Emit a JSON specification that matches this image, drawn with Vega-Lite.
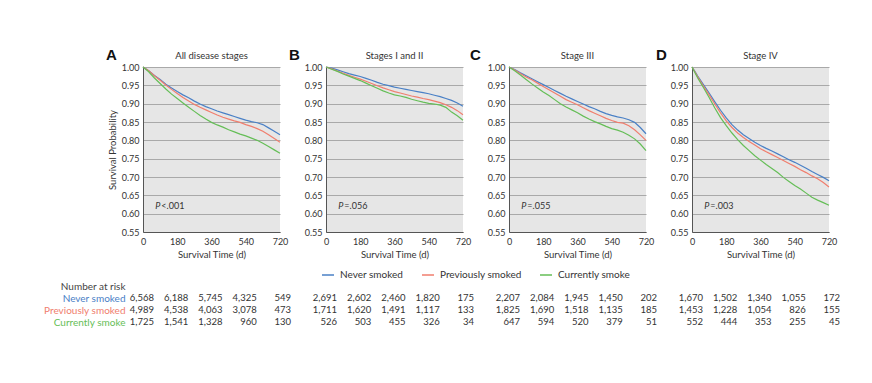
{
"$schema":"https://vega.github.io/schema/vega-lite/v6.json",
"padding":{"left":43,"top":48,"right":10,"bottom":10},
"spacing":0,
"datasets":{
"panels":[{"panel":"A","stage":"All disease stages","p":"<.001"},{"panel":"B","stage":"Stages I and II","p":"=.056"},{"panel":"C","stage":"Stage III","p":"=.055"},{"panel":"D","stage":"Stage IV","p":"=.003"}],
"curves":[
{"p":"A","g":"Never smoked","t":0,"s":1},{"p":"A","g":"Never smoked","t":30,"s":0.99},{"p":"A","g":"Never smoked","t":60,"s":0.977},{"p":"A","g":"Never smoked","t":90,"s":0.966},{"p":"A","g":"Never smoked","t":120,"s":0.953},{"p":"A","g":"Never smoked","t":150,"s":0.943},{"p":"A","g":"Never smoked","t":180,"s":0.933},{"p":"A","g":"Never smoked","t":210,"s":0.924},{"p":"A","g":"Never smoked","t":240,"s":0.916},{"p":"A","g":"Never smoked","t":270,"s":0.907},{"p":"A","g":"Never smoked","t":300,"s":0.899},{"p":"A","g":"Never smoked","t":330,"s":0.892},{"p":"A","g":"Never smoked","t":360,"s":0.886},{"p":"A","g":"Never smoked","t":390,"s":0.88},{"p":"A","g":"Never smoked","t":420,"s":0.875},{"p":"A","g":"Never smoked","t":450,"s":0.87},{"p":"A","g":"Never smoked","t":480,"s":0.865},{"p":"A","g":"Never smoked","t":510,"s":0.86},{"p":"A","g":"Never smoked","t":540,"s":0.855},{"p":"A","g":"Never smoked","t":570,"s":0.851},{"p":"A","g":"Never smoked","t":600,"s":0.848},{"p":"A","g":"Never smoked","t":630,"s":0.843},{"p":"A","g":"Never smoked","t":660,"s":0.834},{"p":"A","g":"Never smoked","t":690,"s":0.825},{"p":"A","g":"Never smoked","t":720,"s":0.815},
{"p":"A","g":"Previously smoked","t":0,"s":1},{"p":"A","g":"Previously smoked","t":30,"s":0.99},{"p":"A","g":"Previously smoked","t":60,"s":0.976},{"p":"A","g":"Previously smoked","t":90,"s":0.964},{"p":"A","g":"Previously smoked","t":120,"s":0.951},{"p":"A","g":"Previously smoked","t":150,"s":0.939},{"p":"A","g":"Previously smoked","t":180,"s":0.928},{"p":"A","g":"Previously smoked","t":210,"s":0.917},{"p":"A","g":"Previously smoked","t":240,"s":0.907},{"p":"A","g":"Previously smoked","t":270,"s":0.898},{"p":"A","g":"Previously smoked","t":300,"s":0.89},{"p":"A","g":"Previously smoked","t":330,"s":0.883},{"p":"A","g":"Previously smoked","t":360,"s":0.876},{"p":"A","g":"Previously smoked","t":390,"s":0.869},{"p":"A","g":"Previously smoked","t":420,"s":0.863},{"p":"A","g":"Previously smoked","t":450,"s":0.858},{"p":"A","g":"Previously smoked","t":480,"s":0.853},{"p":"A","g":"Previously smoked","t":510,"s":0.849},{"p":"A","g":"Previously smoked","t":540,"s":0.843},{"p":"A","g":"Previously smoked","t":570,"s":0.838},{"p":"A","g":"Previously smoked","t":600,"s":0.832},{"p":"A","g":"Previously smoked","t":630,"s":0.825},{"p":"A","g":"Previously smoked","t":660,"s":0.815},{"p":"A","g":"Previously smoked","t":690,"s":0.805},{"p":"A","g":"Previously smoked","t":720,"s":0.795},
{"p":"A","g":"Currently smoke","t":0,"s":1},{"p":"A","g":"Currently smoke","t":30,"s":0.987},{"p":"A","g":"Currently smoke","t":60,"s":0.97},{"p":"A","g":"Currently smoke","t":90,"s":0.955},{"p":"A","g":"Currently smoke","t":120,"s":0.94},{"p":"A","g":"Currently smoke","t":150,"s":0.926},{"p":"A","g":"Currently smoke","t":180,"s":0.914},{"p":"A","g":"Currently smoke","t":210,"s":0.902},{"p":"A","g":"Currently smoke","t":240,"s":0.89},{"p":"A","g":"Currently smoke","t":270,"s":0.879},{"p":"A","g":"Currently smoke","t":300,"s":0.868},{"p":"A","g":"Currently smoke","t":330,"s":0.858},{"p":"A","g":"Currently smoke","t":360,"s":0.849},{"p":"A","g":"Currently smoke","t":390,"s":0.842},{"p":"A","g":"Currently smoke","t":420,"s":0.836},{"p":"A","g":"Currently smoke","t":450,"s":0.829},{"p":"A","g":"Currently smoke","t":480,"s":0.823},{"p":"A","g":"Currently smoke","t":510,"s":0.817},{"p":"A","g":"Currently smoke","t":540,"s":0.812},{"p":"A","g":"Currently smoke","t":570,"s":0.806},{"p":"A","g":"Currently smoke","t":600,"s":0.8},{"p":"A","g":"Currently smoke","t":630,"s":0.792},{"p":"A","g":"Currently smoke","t":660,"s":0.783},{"p":"A","g":"Currently smoke","t":690,"s":0.774},{"p":"A","g":"Currently smoke","t":720,"s":0.765},
{"p":"B","g":"Never smoked","t":0,"s":1},{"p":"B","g":"Never smoked","t":30,"s":0.997},{"p":"B","g":"Never smoked","t":60,"s":0.992},{"p":"B","g":"Never smoked","t":90,"s":0.987},{"p":"B","g":"Never smoked","t":120,"s":0.982},{"p":"B","g":"Never smoked","t":150,"s":0.978},{"p":"B","g":"Never smoked","t":180,"s":0.974},{"p":"B","g":"Never smoked","t":210,"s":0.969},{"p":"B","g":"Never smoked","t":240,"s":0.964},{"p":"B","g":"Never smoked","t":270,"s":0.958},{"p":"B","g":"Never smoked","t":300,"s":0.953},{"p":"B","g":"Never smoked","t":330,"s":0.949},{"p":"B","g":"Never smoked","t":360,"s":0.945},{"p":"B","g":"Never smoked","t":390,"s":0.942},{"p":"B","g":"Never smoked","t":420,"s":0.939},{"p":"B","g":"Never smoked","t":450,"s":0.936},{"p":"B","g":"Never smoked","t":480,"s":0.933},{"p":"B","g":"Never smoked","t":510,"s":0.93},{"p":"B","g":"Never smoked","t":540,"s":0.927},{"p":"B","g":"Never smoked","t":570,"s":0.923},{"p":"B","g":"Never smoked","t":600,"s":0.919},{"p":"B","g":"Never smoked","t":630,"s":0.914},{"p":"B","g":"Never smoked","t":660,"s":0.909},{"p":"B","g":"Never smoked","t":690,"s":0.902},{"p":"B","g":"Never smoked","t":720,"s":0.893},
{"p":"B","g":"Previously smoked","t":0,"s":1},{"p":"B","g":"Previously smoked","t":30,"s":0.995},{"p":"B","g":"Previously smoked","t":60,"s":0.989},{"p":"B","g":"Previously smoked","t":90,"s":0.983},{"p":"B","g":"Previously smoked","t":120,"s":0.977},{"p":"B","g":"Previously smoked","t":150,"s":0.972},{"p":"B","g":"Previously smoked","t":180,"s":0.967},{"p":"B","g":"Previously smoked","t":210,"s":0.961},{"p":"B","g":"Previously smoked","t":240,"s":0.955},{"p":"B","g":"Previously smoked","t":270,"s":0.949},{"p":"B","g":"Previously smoked","t":300,"s":0.943},{"p":"B","g":"Previously smoked","t":330,"s":0.938},{"p":"B","g":"Previously smoked","t":360,"s":0.933},{"p":"B","g":"Previously smoked","t":390,"s":0.929},{"p":"B","g":"Previously smoked","t":420,"s":0.925},{"p":"B","g":"Previously smoked","t":450,"s":0.921},{"p":"B","g":"Previously smoked","t":480,"s":0.918},{"p":"B","g":"Previously smoked","t":510,"s":0.914},{"p":"B","g":"Previously smoked","t":540,"s":0.911},{"p":"B","g":"Previously smoked","t":570,"s":0.907},{"p":"B","g":"Previously smoked","t":600,"s":0.903},{"p":"B","g":"Previously smoked","t":630,"s":0.897},{"p":"B","g":"Previously smoked","t":660,"s":0.89},{"p":"B","g":"Previously smoked","t":690,"s":0.881},{"p":"B","g":"Previously smoked","t":720,"s":0.87},
{"p":"B","g":"Currently smoke","t":0,"s":1},{"p":"B","g":"Currently smoke","t":30,"s":0.994},{"p":"B","g":"Currently smoke","t":60,"s":0.988},{"p":"B","g":"Currently smoke","t":90,"s":0.981},{"p":"B","g":"Currently smoke","t":120,"s":0.975},{"p":"B","g":"Currently smoke","t":150,"s":0.969},{"p":"B","g":"Currently smoke","t":180,"s":0.963},{"p":"B","g":"Currently smoke","t":210,"s":0.956},{"p":"B","g":"Currently smoke","t":240,"s":0.949},{"p":"B","g":"Currently smoke","t":270,"s":0.942},{"p":"B","g":"Currently smoke","t":300,"s":0.935},{"p":"B","g":"Currently smoke","t":330,"s":0.929},{"p":"B","g":"Currently smoke","t":360,"s":0.924},{"p":"B","g":"Currently smoke","t":390,"s":0.921},{"p":"B","g":"Currently smoke","t":420,"s":0.917},{"p":"B","g":"Currently smoke","t":450,"s":0.912},{"p":"B","g":"Currently smoke","t":480,"s":0.908},{"p":"B","g":"Currently smoke","t":510,"s":0.904},{"p":"B","g":"Currently smoke","t":540,"s":0.901},{"p":"B","g":"Currently smoke","t":570,"s":0.899},{"p":"B","g":"Currently smoke","t":600,"s":0.896},{"p":"B","g":"Currently smoke","t":630,"s":0.89},{"p":"B","g":"Currently smoke","t":660,"s":0.877},{"p":"B","g":"Currently smoke","t":690,"s":0.867},{"p":"B","g":"Currently smoke","t":720,"s":0.855},
{"p":"C","g":"Never smoked","t":0,"s":1},{"p":"C","g":"Never smoked","t":30,"s":0.993},{"p":"C","g":"Never smoked","t":60,"s":0.984},{"p":"C","g":"Never smoked","t":90,"s":0.976},{"p":"C","g":"Never smoked","t":120,"s":0.968},{"p":"C","g":"Never smoked","t":150,"s":0.96},{"p":"C","g":"Never smoked","t":180,"s":0.952},{"p":"C","g":"Never smoked","t":210,"s":0.944},{"p":"C","g":"Never smoked","t":240,"s":0.936},{"p":"C","g":"Never smoked","t":270,"s":0.928},{"p":"C","g":"Never smoked","t":300,"s":0.92},{"p":"C","g":"Never smoked","t":330,"s":0.913},{"p":"C","g":"Never smoked","t":360,"s":0.906},{"p":"C","g":"Never smoked","t":390,"s":0.899},{"p":"C","g":"Never smoked","t":420,"s":0.892},{"p":"C","g":"Never smoked","t":450,"s":0.886},{"p":"C","g":"Never smoked","t":480,"s":0.879},{"p":"C","g":"Never smoked","t":510,"s":0.873},{"p":"C","g":"Never smoked","t":540,"s":0.868},{"p":"C","g":"Never smoked","t":570,"s":0.864},{"p":"C","g":"Never smoked","t":600,"s":0.861},{"p":"C","g":"Never smoked","t":630,"s":0.856},{"p":"C","g":"Never smoked","t":660,"s":0.849},{"p":"C","g":"Never smoked","t":690,"s":0.835},{"p":"C","g":"Never smoked","t":720,"s":0.818},
{"p":"C","g":"Previously smoked","t":0,"s":1},{"p":"C","g":"Previously smoked","t":30,"s":0.992},{"p":"C","g":"Previously smoked","t":60,"s":0.982},{"p":"C","g":"Previously smoked","t":90,"s":0.973},{"p":"C","g":"Previously smoked","t":120,"s":0.965},{"p":"C","g":"Previously smoked","t":150,"s":0.956},{"p":"C","g":"Previously smoked","t":180,"s":0.947},{"p":"C","g":"Previously smoked","t":210,"s":0.938},{"p":"C","g":"Previously smoked","t":240,"s":0.929},{"p":"C","g":"Previously smoked","t":270,"s":0.92},{"p":"C","g":"Previously smoked","t":300,"s":0.911},{"p":"C","g":"Previously smoked","t":330,"s":0.904},{"p":"C","g":"Previously smoked","t":360,"s":0.897},{"p":"C","g":"Previously smoked","t":390,"s":0.889},{"p":"C","g":"Previously smoked","t":420,"s":0.881},{"p":"C","g":"Previously smoked","t":450,"s":0.874},{"p":"C","g":"Previously smoked","t":480,"s":0.867},{"p":"C","g":"Previously smoked","t":510,"s":0.86},{"p":"C","g":"Previously smoked","t":540,"s":0.854},{"p":"C","g":"Previously smoked","t":570,"s":0.849},{"p":"C","g":"Previously smoked","t":600,"s":0.847},{"p":"C","g":"Previously smoked","t":630,"s":0.84},{"p":"C","g":"Previously smoked","t":660,"s":0.829},{"p":"C","g":"Previously smoked","t":690,"s":0.815},{"p":"C","g":"Previously smoked","t":720,"s":0.8},
{"p":"C","g":"Currently smoke","t":0,"s":1},{"p":"C","g":"Currently smoke","t":30,"s":0.99},{"p":"C","g":"Currently smoke","t":60,"s":0.978},{"p":"C","g":"Currently smoke","t":90,"s":0.966},{"p":"C","g":"Currently smoke","t":120,"s":0.954},{"p":"C","g":"Currently smoke","t":150,"s":0.943},{"p":"C","g":"Currently smoke","t":180,"s":0.932},{"p":"C","g":"Currently smoke","t":210,"s":0.922},{"p":"C","g":"Currently smoke","t":240,"s":0.911},{"p":"C","g":"Currently smoke","t":270,"s":0.9},{"p":"C","g":"Currently smoke","t":300,"s":0.891},{"p":"C","g":"Currently smoke","t":330,"s":0.883},{"p":"C","g":"Currently smoke","t":360,"s":0.875},{"p":"C","g":"Currently smoke","t":390,"s":0.866},{"p":"C","g":"Currently smoke","t":420,"s":0.858},{"p":"C","g":"Currently smoke","t":450,"s":0.851},{"p":"C","g":"Currently smoke","t":480,"s":0.845},{"p":"C","g":"Currently smoke","t":510,"s":0.838},{"p":"C","g":"Currently smoke","t":540,"s":0.832},{"p":"C","g":"Currently smoke","t":570,"s":0.828},{"p":"C","g":"Currently smoke","t":600,"s":0.822},{"p":"C","g":"Currently smoke","t":630,"s":0.814},{"p":"C","g":"Currently smoke","t":660,"s":0.804},{"p":"C","g":"Currently smoke","t":690,"s":0.79},{"p":"C","g":"Currently smoke","t":720,"s":0.772},
{"p":"D","g":"Never smoked","t":0,"s":1},{"p":"D","g":"Never smoked","t":15,"s":0.988},{"p":"D","g":"Never smoked","t":30,"s":0.975},{"p":"D","g":"Never smoked","t":60,"s":0.952},{"p":"D","g":"Never smoked","t":90,"s":0.929},{"p":"D","g":"Never smoked","t":120,"s":0.905},{"p":"D","g":"Never smoked","t":150,"s":0.882},{"p":"D","g":"Never smoked","t":180,"s":0.861},{"p":"D","g":"Never smoked","t":210,"s":0.843},{"p":"D","g":"Never smoked","t":240,"s":0.828},{"p":"D","g":"Never smoked","t":270,"s":0.815},{"p":"D","g":"Never smoked","t":300,"s":0.805},{"p":"D","g":"Never smoked","t":330,"s":0.795},{"p":"D","g":"Never smoked","t":360,"s":0.786},{"p":"D","g":"Never smoked","t":390,"s":0.778},{"p":"D","g":"Never smoked","t":420,"s":0.771},{"p":"D","g":"Never smoked","t":450,"s":0.763},{"p":"D","g":"Never smoked","t":480,"s":0.755},{"p":"D","g":"Never smoked","t":510,"s":0.747},{"p":"D","g":"Never smoked","t":540,"s":0.74},{"p":"D","g":"Never smoked","t":570,"s":0.732},{"p":"D","g":"Never smoked","t":600,"s":0.724},{"p":"D","g":"Never smoked","t":630,"s":0.715},{"p":"D","g":"Never smoked","t":660,"s":0.707},{"p":"D","g":"Never smoked","t":690,"s":0.699},{"p":"D","g":"Never smoked","t":720,"s":0.69},
{"p":"D","g":"Previously smoked","t":0,"s":1},{"p":"D","g":"Previously smoked","t":15,"s":0.987},{"p":"D","g":"Previously smoked","t":30,"s":0.973},{"p":"D","g":"Previously smoked","t":60,"s":0.948},{"p":"D","g":"Previously smoked","t":90,"s":0.924},{"p":"D","g":"Previously smoked","t":120,"s":0.899},{"p":"D","g":"Previously smoked","t":150,"s":0.875},{"p":"D","g":"Previously smoked","t":180,"s":0.853},{"p":"D","g":"Previously smoked","t":210,"s":0.835},{"p":"D","g":"Previously smoked","t":240,"s":0.82},{"p":"D","g":"Previously smoked","t":270,"s":0.808},{"p":"D","g":"Previously smoked","t":300,"s":0.797},{"p":"D","g":"Previously smoked","t":330,"s":0.787},{"p":"D","g":"Previously smoked","t":360,"s":0.777},{"p":"D","g":"Previously smoked","t":390,"s":0.769},{"p":"D","g":"Previously smoked","t":420,"s":0.761},{"p":"D","g":"Previously smoked","t":450,"s":0.753},{"p":"D","g":"Previously smoked","t":480,"s":0.745},{"p":"D","g":"Previously smoked","t":510,"s":0.737},{"p":"D","g":"Previously smoked","t":540,"s":0.729},{"p":"D","g":"Previously smoked","t":570,"s":0.72},{"p":"D","g":"Previously smoked","t":600,"s":0.712},{"p":"D","g":"Previously smoked","t":630,"s":0.703},{"p":"D","g":"Previously smoked","t":660,"s":0.695},{"p":"D","g":"Previously smoked","t":690,"s":0.685},{"p":"D","g":"Previously smoked","t":720,"s":0.673},
{"p":"D","g":"Currently smoke","t":0,"s":1},{"p":"D","g":"Currently smoke","t":15,"s":0.985},{"p":"D","g":"Currently smoke","t":30,"s":0.97},{"p":"D","g":"Currently smoke","t":60,"s":0.944},{"p":"D","g":"Currently smoke","t":90,"s":0.917},{"p":"D","g":"Currently smoke","t":120,"s":0.888},{"p":"D","g":"Currently smoke","t":150,"s":0.862},{"p":"D","g":"Currently smoke","t":180,"s":0.84},{"p":"D","g":"Currently smoke","t":210,"s":0.82},{"p":"D","g":"Currently smoke","t":240,"s":0.802},{"p":"D","g":"Currently smoke","t":270,"s":0.786},{"p":"D","g":"Currently smoke","t":300,"s":0.772},{"p":"D","g":"Currently smoke","t":330,"s":0.758},{"p":"D","g":"Currently smoke","t":360,"s":0.746},{"p":"D","g":"Currently smoke","t":390,"s":0.734},{"p":"D","g":"Currently smoke","t":420,"s":0.723},{"p":"D","g":"Currently smoke","t":450,"s":0.712},{"p":"D","g":"Currently smoke","t":480,"s":0.699},{"p":"D","g":"Currently smoke","t":510,"s":0.688},{"p":"D","g":"Currently smoke","t":540,"s":0.677},{"p":"D","g":"Currently smoke","t":570,"s":0.667},{"p":"D","g":"Currently smoke","t":600,"s":0.656},{"p":"D","g":"Currently smoke","t":630,"s":0.645},{"p":"D","g":"Currently smoke","t":660,"s":0.637},{"p":"D","g":"Currently smoke","t":690,"s":0.63},{"p":"D","g":"Currently smoke","t":720,"s":0.623}
],
"risk":[
{"p":"A","g":"Never smoked","t":0,"n":6568},{"p":"A","g":"Never smoked","t":180,"n":6188},{"p":"A","g":"Never smoked","t":360,"n":5745},{"p":"A","g":"Never smoked","t":540,"n":4325},{"p":"A","g":"Never smoked","t":720,"n":549},
{"p":"A","g":"Previously smoked","t":0,"n":4989},{"p":"A","g":"Previously smoked","t":180,"n":4538},{"p":"A","g":"Previously smoked","t":360,"n":4063},{"p":"A","g":"Previously smoked","t":540,"n":3078},{"p":"A","g":"Previously smoked","t":720,"n":473},
{"p":"A","g":"Currently smoke","t":0,"n":1725},{"p":"A","g":"Currently smoke","t":180,"n":1541},{"p":"A","g":"Currently smoke","t":360,"n":1328},{"p":"A","g":"Currently smoke","t":540,"n":960},{"p":"A","g":"Currently smoke","t":720,"n":130},
{"p":"B","g":"Never smoked","t":0,"n":2691},{"p":"B","g":"Never smoked","t":180,"n":2602},{"p":"B","g":"Never smoked","t":360,"n":2460},{"p":"B","g":"Never smoked","t":540,"n":1820},{"p":"B","g":"Never smoked","t":720,"n":175},
{"p":"B","g":"Previously smoked","t":0,"n":1711},{"p":"B","g":"Previously smoked","t":180,"n":1620},{"p":"B","g":"Previously smoked","t":360,"n":1491},{"p":"B","g":"Previously smoked","t":540,"n":1117},{"p":"B","g":"Previously smoked","t":720,"n":133},
{"p":"B","g":"Currently smoke","t":0,"n":526},{"p":"B","g":"Currently smoke","t":180,"n":503},{"p":"B","g":"Currently smoke","t":360,"n":455},{"p":"B","g":"Currently smoke","t":540,"n":326},{"p":"B","g":"Currently smoke","t":720,"n":34},
{"p":"C","g":"Never smoked","t":0,"n":2207},{"p":"C","g":"Never smoked","t":180,"n":2084},{"p":"C","g":"Never smoked","t":360,"n":1945},{"p":"C","g":"Never smoked","t":540,"n":1450},{"p":"C","g":"Never smoked","t":720,"n":202},
{"p":"C","g":"Previously smoked","t":0,"n":1825},{"p":"C","g":"Previously smoked","t":180,"n":1690},{"p":"C","g":"Previously smoked","t":360,"n":1518},{"p":"C","g":"Previously smoked","t":540,"n":1135},{"p":"C","g":"Previously smoked","t":720,"n":185},
{"p":"C","g":"Currently smoke","t":0,"n":647},{"p":"C","g":"Currently smoke","t":180,"n":594},{"p":"C","g":"Currently smoke","t":360,"n":520},{"p":"C","g":"Currently smoke","t":540,"n":379},{"p":"C","g":"Currently smoke","t":720,"n":51},
{"p":"D","g":"Never smoked","t":0,"n":1670},{"p":"D","g":"Never smoked","t":180,"n":1502},{"p":"D","g":"Never smoked","t":360,"n":1340},{"p":"D","g":"Never smoked","t":540,"n":1055},{"p":"D","g":"Never smoked","t":720,"n":172},
{"p":"D","g":"Previously smoked","t":0,"n":1453},{"p":"D","g":"Previously smoked","t":180,"n":1228},{"p":"D","g":"Previously smoked","t":360,"n":1054},{"p":"D","g":"Previously smoked","t":540,"n":826},{"p":"D","g":"Previously smoked","t":720,"n":155},
{"p":"D","g":"Currently smoke","t":0,"n":552},{"p":"D","g":"Currently smoke","t":180,"n":444},{"p":"D","g":"Currently smoke","t":360,"n":353},{"p":"D","g":"Currently smoke","t":540,"n":255},{"p":"D","g":"Currently smoke","t":720,"n":45}
]
},
"vconcat":[
{"hconcat":[
{"width":137,"height":165,"view":{"fill":"#e6e6e6","stroke":null},
"layer":[
{"data":{"name":"curves"},"transform":[{"filter":"datum.p==='A'"}],"mark":{"type":"line","strokeWidth":1.2},
"encoding":{"x":{"field":"t","type":"quantitative","scale":{"domain":[0,720],"nice":false},"axis":{"values":[0,180,360,540,720],"tickCount":20,"title":"Survival Time (d)","grid":false}},
"y":{"field":"s","type":"quantitative","scale":{"domain":[0.55,1],"nice":false},"axis":{"values":[0.55,0.6,0.65,0.7,0.75,0.8,0.85,0.9,0.95,1],"tickCount":20,"format":".2f","grid":true,"title":"Survival Probability"}},
"color":{"field":"g","type":"nominal","scale":{"domain":["Never smoked","Previously smoked","Currently smoke"],"range":["#4a80c6","#f07e6e","#65be57"]},"legend":null}}},
{"data":{"name":"panels"},"transform":[{"filter":"datum.panel==='A'"}],"mark":{"type":"text","font":"Liberation Sans","fontSize":15,"fontWeight":"bold","align":"left","baseline":"alphabetic","dx":-37,"dy":-7,"color":"#111"},"encoding":{"x":{"datum":0},"y":{"datum":1},"text":{"field":"panel"}}},
{"data":{"name":"panels"},"transform":[{"filter":"datum.panel==='A'"}],"mark":{"type":"text","fontSize":9.5,"align":"center","baseline":"alphabetic","dy":-8,"color":"#333"},"encoding":{"x":{"datum":360},"y":{"datum":1},"text":{"field":"stage"}}},
{"data":{"name":"panels"},"transform":[{"filter":"datum.panel==='A'"}],"mark":{"type":"text","fontStyle":"italic","fontSize":9,"align":"left","text":"P","color":"#333"},"encoding":{"x":{"datum":65},"y":{"datum":0.62}}},
{"data":{"name":"panels"},"transform":[{"filter":"datum.panel==='A'"}],"mark":{"type":"text","fontSize":9,"align":"left","dx":6,"color":"#333"},"encoding":{"x":{"datum":65},"y":{"datum":0.62},"text":{"field":"p"}}}
]},
{"width":137,"height":165,"view":{"fill":"#e6e6e6","stroke":null},
"layer":[
{"data":{"name":"curves"},"transform":[{"filter":"datum.p==='B'"}],"mark":{"type":"line","strokeWidth":1.2},
"encoding":{"x":{"field":"t","type":"quantitative","scale":{"domain":[0,720],"nice":false},"axis":{"values":[0,180,360,540,720],"tickCount":20,"title":"Survival Time (d)","grid":false}},
"y":{"field":"s","type":"quantitative","scale":{"domain":[0.55,1],"nice":false},"axis":{"values":[0.55,0.6,0.65,0.7,0.75,0.8,0.85,0.9,0.95,1],"tickCount":20,"format":".2f","grid":true,"title":null}},
"color":{"field":"g","type":"nominal","scale":{"domain":["Never smoked","Previously smoked","Currently smoke"],"range":["#4a80c6","#f07e6e","#65be57"]},
"legend":{"orient":"none","legendX":-5,"legendY":201,"direction":"horizontal","title":null,"symbolType":"stroke","symbolSize":144,"symbolStrokeWidth":1.5,"labelFontSize":10,"labelColor":"#333","columnPadding":15,"labelOffset":5}}}},
{"data":{"name":"panels"},"transform":[{"filter":"datum.panel==='B'"}],"mark":{"type":"text","font":"Liberation Sans","fontSize":15,"fontWeight":"bold","align":"left","baseline":"alphabetic","dx":-37,"dy":-7,"color":"#111"},"encoding":{"x":{"datum":0},"y":{"datum":1},"text":{"field":"panel"}}},
{"data":{"name":"panels"},"transform":[{"filter":"datum.panel==='B'"}],"mark":{"type":"text","fontSize":9.5,"align":"center","baseline":"alphabetic","dy":-8,"color":"#333"},"encoding":{"x":{"datum":360},"y":{"datum":1},"text":{"field":"stage"}}},
{"data":{"name":"panels"},"transform":[{"filter":"datum.panel==='B'"}],"mark":{"type":"text","fontStyle":"italic","fontSize":9,"align":"left","text":"P","color":"#333"},"encoding":{"x":{"datum":65},"y":{"datum":0.62}}},
{"data":{"name":"panels"},"transform":[{"filter":"datum.panel==='B'"}],"mark":{"type":"text","fontSize":9,"align":"left","dx":6,"color":"#333"},"encoding":{"x":{"datum":65},"y":{"datum":0.62},"text":{"field":"p"}}}
]},
{"width":137,"height":165,"view":{"fill":"#e6e6e6","stroke":null},
"layer":[
{"data":{"name":"curves"},"transform":[{"filter":"datum.p==='C'"}],"mark":{"type":"line","strokeWidth":1.2},
"encoding":{"x":{"field":"t","type":"quantitative","scale":{"domain":[0,720],"nice":false},"axis":{"values":[0,180,360,540,720],"tickCount":20,"title":"Survival Time (d)","grid":false}},
"y":{"field":"s","type":"quantitative","scale":{"domain":[0.55,1],"nice":false},"axis":{"values":[0.55,0.6,0.65,0.7,0.75,0.8,0.85,0.9,0.95,1],"tickCount":20,"format":".2f","grid":true,"title":null}},
"color":{"field":"g","type":"nominal","scale":{"domain":["Never smoked","Previously smoked","Currently smoke"],"range":["#4a80c6","#f07e6e","#65be57"]},"legend":null}}},
{"data":{"name":"panels"},"transform":[{"filter":"datum.panel==='C'"}],"mark":{"type":"text","font":"Liberation Sans","fontSize":15,"fontWeight":"bold","align":"left","baseline":"alphabetic","dx":-39,"dy":-7,"color":"#111"},"encoding":{"x":{"datum":0},"y":{"datum":1},"text":{"field":"panel"}}},
{"data":{"name":"panels"},"transform":[{"filter":"datum.panel==='C'"}],"mark":{"type":"text","fontSize":9.5,"align":"center","baseline":"alphabetic","dy":-8,"color":"#333"},"encoding":{"x":{"datum":360},"y":{"datum":1},"text":{"field":"stage"}}},
{"data":{"name":"panels"},"transform":[{"filter":"datum.panel==='C'"}],"mark":{"type":"text","fontStyle":"italic","fontSize":9,"align":"left","text":"P","color":"#333"},"encoding":{"x":{"datum":65},"y":{"datum":0.62}}},
{"data":{"name":"panels"},"transform":[{"filter":"datum.panel==='C'"}],"mark":{"type":"text","fontSize":9,"align":"left","dx":6,"color":"#333"},"encoding":{"x":{"datum":65},"y":{"datum":0.62},"text":{"field":"p"}}}
]},
{"width":137,"height":165,"view":{"fill":"#e6e6e6","stroke":null},
"layer":[
{"data":{"name":"curves"},"transform":[{"filter":"datum.p==='D'"}],"mark":{"type":"line","strokeWidth":1.2},
"encoding":{"x":{"field":"t","type":"quantitative","scale":{"domain":[0,720],"nice":false},"axis":{"values":[0,180,360,540,720],"tickCount":20,"title":"Survival Time (d)","grid":false}},
"y":{"field":"s","type":"quantitative","scale":{"domain":[0.55,1],"nice":false},"axis":{"values":[0.55,0.6,0.65,0.7,0.75,0.8,0.85,0.9,0.95,1],"tickCount":20,"format":".2f","grid":true,"title":null}},
"color":{"field":"g","type":"nominal","scale":{"domain":["Never smoked","Previously smoked","Currently smoke"],"range":["#4a80c6","#f07e6e","#65be57"]},"legend":null}}},
{"data":{"name":"panels"},"transform":[{"filter":"datum.panel==='D'"}],"mark":{"type":"text","font":"Liberation Sans","fontSize":15,"fontWeight":"bold","align":"left","baseline":"alphabetic","dx":-36,"dy":-7,"color":"#111"},"encoding":{"x":{"datum":0},"y":{"datum":1},"text":{"field":"panel"}}},
{"data":{"name":"panels"},"transform":[{"filter":"datum.panel==='D'"}],"mark":{"type":"text","fontSize":9.5,"align":"center","baseline":"alphabetic","dy":-8,"color":"#333"},"encoding":{"x":{"datum":360},"y":{"datum":1},"text":{"field":"stage"}}},
{"data":{"name":"panels"},"transform":[{"filter":"datum.panel==='D'"}],"mark":{"type":"text","fontStyle":"italic","fontSize":9,"align":"left","text":"P","color":"#333"},"encoding":{"x":{"datum":65},"y":{"datum":0.62}}},
{"data":{"name":"panels"},"transform":[{"filter":"datum.panel==='D'"}],"mark":{"type":"text","fontSize":9,"align":"left","dx":6,"color":"#333"},"encoding":{"x":{"datum":65},"y":{"datum":0.62},"text":{"field":"p"}}}
]}
],"spacing":46,"bounds":"flush","resolve":{"legend":{"color":"independent"}}},
{"hconcat":[
{"width":137,"height":48,"data":{"name":"risk"},"transform":[{"filter":"datum.p==='A'"}],"mark":{"type":"text","align":"right","dx":11,"fontSize":9.5,"color":"#333"},
"encoding":{"x":{"field":"t","type":"quantitative","scale":{"domain":[0,720],"nice":false},"axis":null},
"y":{"field":"g","type":"nominal","scale":{"domain":["Number at risk","Never smoked","Previously smoked","Currently smoke"],"paddingInner":0,"paddingOuter":0},
"axis":{"title":null,"domain":false,"ticks":false,"tickSize":0,"grid":false,"labelPadding":18,"labelFontSize":10,"labelColor":{"expr":"datum.value==='Never smoked'?'#4a80c6':datum.value==='Previously smoked'?'#f07e6e':datum.value==='Currently smoke'?'#65be57':'#444'"}}},
"text":{"field":"n","type":"quantitative","format":","}}},
{"width":137,"height":48,"data":{"name":"risk"},"transform":[{"filter":"datum.p==='B'"}],"mark":{"type":"text","align":"right","dx":11,"fontSize":9.5,"color":"#333"},
"encoding":{"x":{"field":"t","type":"quantitative","scale":{"domain":[0,720],"nice":false},"axis":null},
"y":{"field":"g","type":"nominal","scale":{"domain":["Number at risk","Never smoked","Previously smoked","Currently smoke"],"paddingInner":0,"paddingOuter":0},"axis":null},
"text":{"field":"n","type":"quantitative","format":","}}},
{"width":137,"height":48,"data":{"name":"risk"},"transform":[{"filter":"datum.p==='C'"}],"mark":{"type":"text","align":"right","dx":11,"fontSize":9.5,"color":"#333"},
"encoding":{"x":{"field":"t","type":"quantitative","scale":{"domain":[0,720],"nice":false},"axis":null},
"y":{"field":"g","type":"nominal","scale":{"domain":["Number at risk","Never smoked","Previously smoked","Currently smoke"],"paddingInner":0,"paddingOuter":0},"axis":null},
"text":{"field":"n","type":"quantitative","format":","}}},
{"width":137,"height":48,"data":{"name":"risk"},"transform":[{"filter":"datum.p==='D'"}],"mark":{"type":"text","align":"right","dx":11,"fontSize":9.5,"color":"#333"},
"encoding":{"x":{"field":"t","type":"quantitative","scale":{"domain":[0,720],"nice":false},"axis":null},
"y":{"field":"g","type":"nominal","scale":{"domain":["Number at risk","Never smoked","Previously smoked","Currently smoke"],"paddingInner":0,"paddingOuter":0},"axis":null},
"text":{"field":"n","type":"quantitative","format":","}}}
],"spacing":46,"bounds":"flush"}
],
"config":{
"font":"Lato",
"view":{"stroke":null},
"axis":{"grid":false,"gridColor":"#a9a9a9","gridWidth":1,"ticks":false,"tickSize":0,"labelOverlap":false,"labelFlush":false,"domainColor":"#555","domainWidth":1,"labelFont":"Lato","labelFontSize":9,"labelColor":"#333","labelPadding":4,"titleFont":"Lato","titleFontSize":9.5,"titleFontWeight":"normal","titleColor":"#333","titlePadding":4},
"axisY":{"labelPadding":4,"titlePadding":4},
"axisX":{"labelPadding":5,"titlePadding":3},
"legend":{"labelFont":"Lato"},
"text":{"font":"Lato"}
}
}
